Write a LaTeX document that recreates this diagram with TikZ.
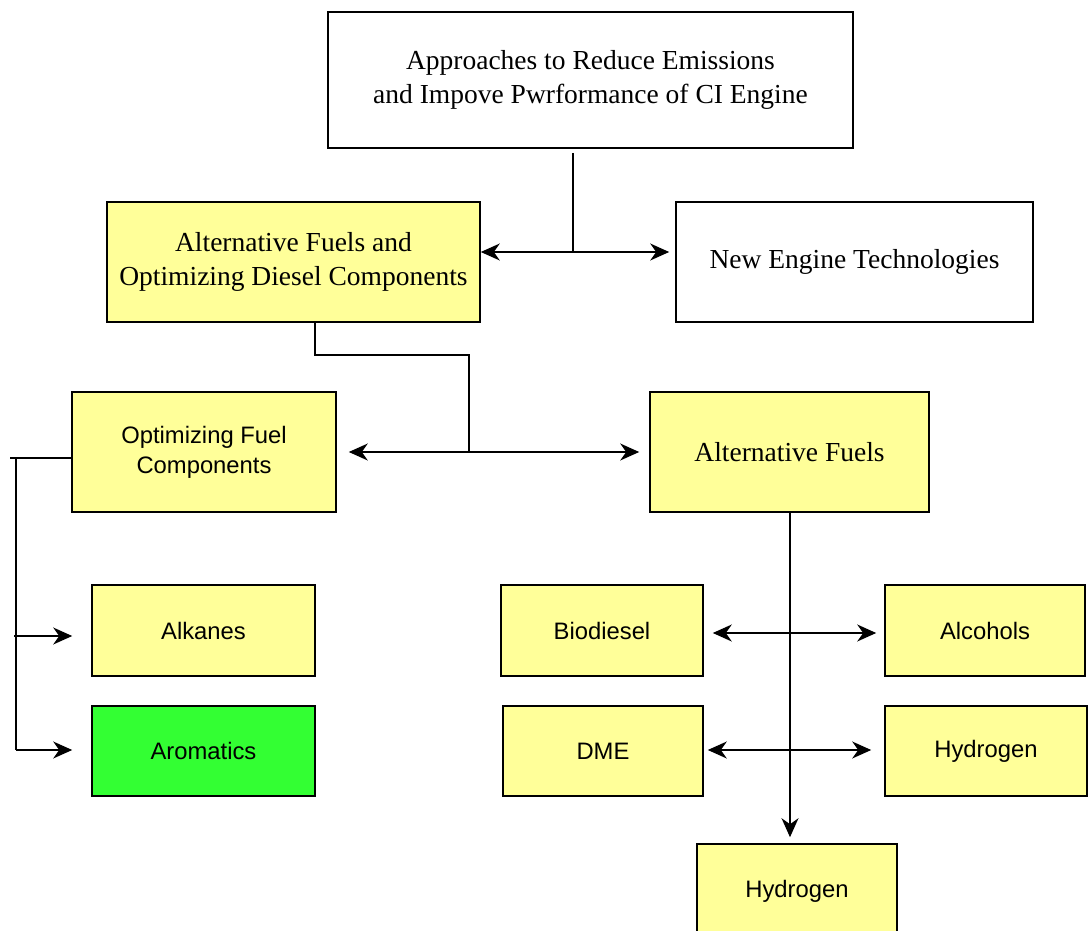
\documentclass[tikz,border=0pt]{standalone}
\usepackage{fontspec}
\setmainfont{Liberation Serif}
\setsansfont{Liberation Sans}
\usetikzlibrary{arrows.meta,calc}
\definecolor{boxyellow}{HTML}{FFFF99}
\definecolor{boxgreen}{HTML}{33FF33}
\begin{document}
\begin{tikzpicture}[x=1pt,y=-1pt,
  box/.style={draw=black, line width=1.6pt, inner sep=0pt, align=center},
  serifbox/.style={box, font=\fontsize{27.5}{34}\selectfont},
  sansbox/.style={box, font=\sffamily\fontsize{23.8}{30}\selectfont},
  conn/.style={line width=1.5pt, draw=black},
  tip/.style={-{Stealth[length=19pt,width=17pt,inset=6pt]}},
  tips/.style={{Stealth[length=19pt,width=17pt,inset=6pt]}-{Stealth[length=19pt,width=17pt,inset=6pt]}}
]
\useasboundingbox (0,0) rectangle (1088,931);
\clip (0,0) rectangle (1088,931);
\fill[white] (0,0) rectangle (1088,931);

\node[serifbox, fill=white, minimum width=525pt, minimum height=136pt] (top) at (590.5,80)
  {Approaches to Reduce Emissions\\and Impove Pwrformance of CI Engine};
\node[serifbox, fill=boxyellow, minimum width=373pt, minimum height=120pt] (altopt) at (293.5,262)
  {Alternative Fuels and\\Optimizing Diesel Components};
\node[serifbox, fill=white, minimum width=357pt, minimum height=120pt] (neweng) at (854.5,262)
  {New Engine Technologies};
\node[sansbox, fill=boxyellow, minimum width=264pt, minimum height=120pt] (optfuel) at (204,452)
  {Optimizing Fuel\\Components};
\node[serifbox, fill=boxyellow, minimum width=279pt, minimum height=120pt] (altfuels) at (789.5,452)
  {Alternative Fuels};
\node[sansbox, fill=boxyellow, minimum width=223pt, minimum height=91pt] (alkanes) at (203.5,630.5) {Alkanes};
\node[sansbox, fill=boxgreen, minimum width=223pt, minimum height=90pt] (aromatics) at (203.5,751) {Aromatics};
\node[sansbox, fill=boxyellow, minimum width=202pt, minimum height=91pt] (biodiesel) at (602,630.5) {Biodiesel};
\node[sansbox, fill=boxyellow, minimum width=200pt, minimum height=91pt] (alcohols) at (985,630.5) {Alcohols};
\node[sansbox, fill=boxyellow, minimum width=200pt, minimum height=90pt] (dme) at (603,751) {DME};
\node[sansbox, fill=boxyellow, minimum width=202pt, minimum height=90pt] (hydrogenA) at (986,751) {Hydrogen};
\node[sansbox, fill=boxyellow, minimum width=200pt, minimum height=94pt] (hydrogenB) at (797,891) {Hydrogen};

% top junction
\coordinate (j1) at (573,252);
\draw[conn] ($(top.south -| j1)+(0,4)$) -- (j1);
\draw[conn, tips] (altopt.east |- j1) -- ($(neweng.west |- j1)+(-6,0)$);

% second level junction
\coordinate (k1) at (315,355);
\coordinate (k2) at (469,452);
\draw[conn] (altopt.south -| k1) -- (k1) -- (k1 -| k2) -- (k2);
\draw[conn, tips] ($(optfuel.east |- k2)+(12,0)$) -- ($(altfuels.west |- k2)+(-10,0)$);

% left bracket
\coordinate (l1) at (16,458);
\coordinate (l2) at (16,750);
\coordinate (l3) at (14,636);
\draw[conn] (optfuel.west |- l1) -- (10,458);
\draw[conn] (l1) -- (l2);
\draw[conn, tip] (l2) -- ($(aromatics.west |- l2)+(-19,0)$);
\draw[conn, tip] (l3) -- ($(alkanes.west |- l3)+(-19,0)$);

% alternative fuels trunk
\coordinate (m1) at (790,633);
\coordinate (m2) at (790,750);
\draw[conn, tip] (altfuels.south -| m1) -- ($(hydrogenB.north -| m1)+(0,-6)$);
\draw[conn, tips] ($(biodiesel.east |- m1)+(9,0)$) -- ($(alcohols.west |- m1)+(-8,0)$);
\draw[conn, tips] ($(dme.east |- m2)+(4,0)$) -- ($(hydrogenA.west |- m2)+(-13,0)$);
\end{tikzpicture}
\end{document}
